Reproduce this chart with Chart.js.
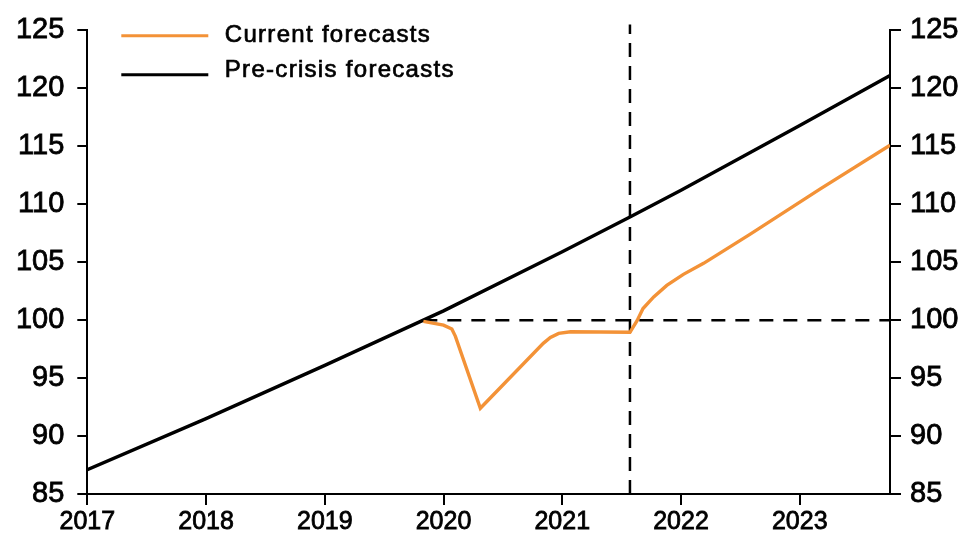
<!DOCTYPE html>
<html>
<head>
<meta charset="utf-8">
<title>Current vs pre-crisis forecasts</title>
<script src="https://cdn.jsdelivr.net/npm/chart.js@4.4.1/dist/chart.umd.min.js"></script>
<style>
  html, body { margin: 0; padding: 0; background: #fff; }
  #wrap { width: 969px; height: 535px; position: relative; }
</style>
</head>
<body>
<div id="wrap"><canvas id="chart"></canvas></div>
<script>
// -------------- data --------------
const yearTicks = [2017, 2018, 2019, 2020, 2021, 2022, 2023];

// pre-crisis path (x = decimal year, y = index)
const preCrisisX = [2017, 2018, 2019, 2019.83, 2020, 2021, 2021.57, 2022, 2023, 2023.76];
const preCrisisY = [87.1, 91.5, 96.1, 100.0, 100.8, 105.9, 108.9, 111.2, 116.8, 121.1];

// current forecast path
const currentX = [2019.83, 2020.0, 2020.07, 2020.1, 2020.31, 2020.84, 2020.9, 2020.97, 2021.07,
                  2021.57, 2021.63, 2021.68, 2021.77, 2021.88, 2022.02, 2022.19, 2022.58, 2023.17, 2023.76];
const currentY = [99.9, 99.57, 99.23, 98.6, 92.4, 98.0, 98.5, 98.86, 99.0,
                  98.95, 99.95, 101.0, 102.0, 103.0, 103.95, 104.9, 107.4, 111.3, 115.1];

// reference lines
const baseLevel = 100;
const baseFrom = 2019.83;
const cutOffYear = 2021.57;

const xMin = 2017, xMax = 2023.76;
const yMin = 85, yMax = 125;

const pairs = (xs, ys) => xs.map((x, i) => ({ x: x, y: ys[i] }));

const FONT = "'Liberation Sans', Arial, Helvetica, sans-serif";

// legend drawn in the top-left corner of the plot, one row per series
const cornerLegend = {
    id: 'cornerLegend',
    afterDraw(chart) {
        const { ctx, chartArea } = chart;
        const items = chart.data.datasets.filter(d => d.showInLegend);
        ctx.save();
        ctx.font = '24px ' + FONT;
        ctx.fillStyle = '#000';
        ctx.strokeStyle = '#000';
        ctx.textBaseline = 'alphabetic';
        if ('letterSpacing' in ctx) ctx.letterSpacing = '1.3px';
        items.forEach((d, i) => {
            const yLine = chartArea.top + 5.3 + i * 39;
            ctx.strokeStyle = d.borderColor;
            ctx.lineWidth = 3;
            ctx.beginPath();
            ctx.moveTo(chartArea.left + 34, yLine);
            ctx.lineTo(chartArea.left + 121, yLine);
            ctx.stroke();
            const tx = chartArea.left + 137.5, ty = chartArea.top + 11.5 + i * 35.3;
            ctx.fillText(d.label, tx, ty);
            ctx.strokeStyle = '#000';
            ctx.lineWidth = 0.7;
            ctx.strokeText(d.label, tx, ty);
        });
        ctx.restore();
    }
};

const axisCommon = {
    grid: { drawOnChartArea: false, drawTicks: true, color: '#000', lineWidth: 2 },
    border: { display: true, color: '#000', width: 2 }
};

const tickText = { color: '#000', textStrokeColor: '#000', textStrokeWidth: 0.8 };

const options = {
    type: 'line',
    data: {
        datasets: [
            {
                label: 'Current forecasts',
                showInLegend: true,
                data: pairs(currentX, currentY),
                borderColor: '#f39237',
                borderWidth: 3.4,
                pointRadius: 0,
                tension: 0
            },
            {
                label: 'Pre-crisis forecasts',
                showInLegend: true,
                data: pairs(preCrisisX, preCrisisY),
                borderColor: '#000',
                borderWidth: 3.4,
                pointRadius: 0,
                tension: 0
            },
            {
                label: 'base',
                data: [{ x: baseFrom, y: baseLevel }, { x: xMax, y: baseLevel }],
                borderColor: '#000',
                borderWidth: 2.5,
                borderDash: [14, 10],
                pointRadius: 0
            },
            {
                label: 'cut-off',
                data: [{ x: cutOffYear, y: yMin }, { x: cutOffYear, y: 125.5 }],
                borderColor: '#000',
                borderWidth: 2.5,
                borderDash: [14, 9],
                pointRadius: 0,
                clip: false
            }
        ]
    },
    options: {
        responsive: true,
        maintainAspectRatio: false,
        animation: false,
        layout: { padding: { top: 29, left: 0, right: 0, bottom: 0 } },
        plugins: {
            legend: { display: false },
            tooltip: { enabled: false },
            title: { display: false }
        },
        scales: {
            x: {
                type: 'linear',
                position: 'bottom',
                min: xMin,
                max: xMax,
                grid: Object.assign({}, axisCommon.grid, { tickLength: 11 }),
                border: axisCommon.border,
                afterBuildTicks: s => { s.ticks = yearTicks.map(v => ({ value: v })); },
                afterFit: s => { s.height = 41; },
                ticks: Object.assign({
                    autoSkip: false,
                    maxRotation: 0,
                    padding: 2,
                    font: { family: FONT, size: 25 },
                    callback: v => String(v)
                }, tickText)
            },
            y: {
                position: 'left',
                min: yMin,
                max: yMax,
                grid: Object.assign({}, axisCommon.grid, { tickLength: 10 }),
                border: axisCommon.border,
                afterFit: s => { s.width = 87.3; },
                ticks: Object.assign({ stepSize: 5, padding: 13, font: { family: FONT, size: 29 } }, tickText)
            },
            y2: {
                position: 'right',
                min: yMin,
                max: yMax,
                grid: Object.assign({}, axisCommon.grid, { tickLength: 11 }),
                border: axisCommon.border,
                afterFit: s => { s.width = 79; },
                ticks: Object.assign({ stepSize: 5, padding: 9, font: { family: FONT, size: 29 } }, tickText)
            }
        }
    },
    plugins: [cornerLegend]
};

const ctx = document.getElementById('chart').getContext('2d');
new Chart(ctx, options);
</script>
</body>
</html>
